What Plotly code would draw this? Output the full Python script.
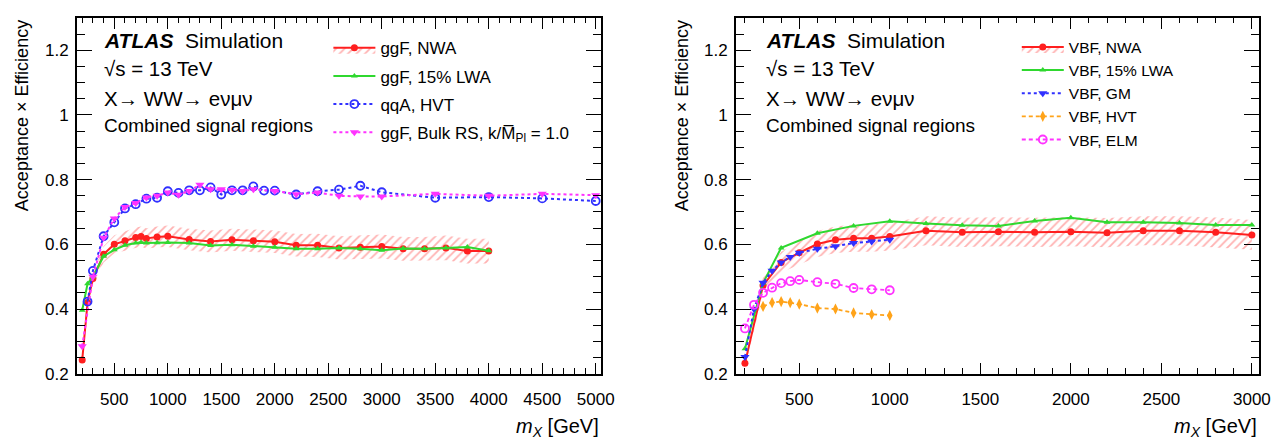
import plotly.graph_objects as go

W, H = 1284, 445

# ---------------- Left panel: ggF / qqA ----------------
ggf_nwa_mass = [200, 250, 300, 400, 500, 600, 700, 750, 800, 900, 1000, 1200, 1400, 1600, 1800,
                2000, 2200, 2400, 2600, 2800, 3000, 3200, 3400, 3600, 3800, 4000]
ggf_nwa_eff = [0.242, 0.420, 0.494, 0.569, 0.600, 0.611, 0.621, 0.624, 0.618, 0.623, 0.625, 0.615, 0.609,
               0.614, 0.611, 0.608, 0.597, 0.597, 0.589, 0.591, 0.593, 0.586, 0.586, 0.589, 0.579, 0.579]
ggf_nwa_unc = [0.010, 0.015, 0.020, 0.025, 0.028, 0.030, 0.031, 0.031, 0.032, 0.032, 0.033, 0.033, 0.034,
               0.034, 0.035, 0.035, 0.035, 0.036, 0.036, 0.036, 0.037, 0.037, 0.037, 0.038, 0.038, 0.038]

ggf_lwa_mass = ggf_nwa_mass
ggf_lwa_eff = [0.396, 0.478, 0.500, 0.563, 0.583, 0.597, 0.604, 0.606, 0.604, 0.605, 0.606, 0.604, 0.596,
               0.599, 0.594, 0.591, 0.586, 0.586, 0.589, 0.586, 0.582, 0.587, 0.586, 0.589, 0.592, 0.580]

qqa_hvt_mass = [250, 300, 400, 500, 600, 700, 800, 900, 1000, 1100, 1200, 1300, 1400, 1500, 1600, 1700,
                1800, 1900, 2000, 2200, 2400, 2600, 2800, 3000, 3500, 4000, 4500, 5000]
qqa_hvt_eff = [0.423, 0.518, 0.625, 0.668, 0.711, 0.724, 0.741, 0.744, 0.764, 0.759, 0.767, 0.767, 0.776,
               0.754, 0.767, 0.767, 0.779, 0.766, 0.766, 0.754, 0.764, 0.769, 0.781, 0.761, 0.744, 0.746,
               0.742, 0.734]

bulk_rs_mass = [200, 300, 400, 500, 600, 700, 800, 900, 1000, 1100, 1200, 1300, 1400, 1500, 1600, 1700,
                1800, 2000, 2200, 2400, 2600, 2800, 3000, 3500, 4000, 4500, 5000]
bulk_rs_eff = [0.285, 0.500, 0.620, 0.680, 0.715, 0.728, 0.745, 0.750, 0.760, 0.753, 0.765, 0.784, 0.770,
               0.770, 0.768, 0.765, 0.770, 0.765, 0.755, 0.760, 0.750, 0.748, 0.748, 0.756, 0.750, 0.756,
               0.752]

# ---------------- Right panel: VBF ----------------
vbf_nwa_mass = [200, 300, 400, 500, 600, 700, 800, 900, 1000, 1200, 1400, 1600, 1800, 2000, 2200, 2400,
                2600, 2800, 3000]
vbf_nwa_eff = [0.232, 0.473, 0.544, 0.574, 0.601, 0.614, 0.619, 0.619, 0.624, 0.642, 0.637, 0.639, 0.637,
               0.639, 0.636, 0.642, 0.642, 0.637, 0.629]
vbf_nwa_unc = [0.012, 0.025, 0.032, 0.036, 0.040, 0.041, 0.042, 0.042, 0.043, 0.045, 0.045, 0.045, 0.045,
               0.045, 0.045, 0.045, 0.045, 0.046, 0.046]

vbf_lwa_mass = [200, 300, 400, 600, 800, 1000, 1200, 1400, 1600, 1800, 2000, 2200, 2400, 2600, 2800, 3000]
vbf_lwa_eff = [0.277, 0.480, 0.589, 0.634, 0.657, 0.671, 0.664, 0.659, 0.657, 0.672, 0.682, 0.668, 0.668,
               0.666, 0.660, 0.660]

vbf_gm_mass = [200, 250, 300, 350, 400, 450, 500, 600, 700, 800, 900, 1000]
vbf_gm_eff = [0.252, 0.400, 0.481, 0.518, 0.544, 0.561, 0.574, 0.586, 0.594, 0.604, 0.609, 0.614]

vbf_hvt_mass = [300, 350, 400, 450, 500, 600, 700, 800, 900, 1000]
vbf_hvt_eff = [0.408, 0.420, 0.423, 0.420, 0.415, 0.403, 0.400, 0.388, 0.383, 0.380]

vbf_elm_mass = [200, 250, 300, 350, 400, 450, 500, 600, 700, 800, 900, 1000]
vbf_elm_eff = [0.340, 0.413, 0.450, 0.466, 0.480, 0.486, 0.490, 0.483, 0.478, 0.465, 0.461, 0.458]

# labels
left_legend = ["ggF, NWA", "ggF, 15% LWA", "qqA, HVT", "ggF, Bulk RS, k/M\u0305<sub>Pl</sub> = 1.0"]
right_legend = ["VBF, NWA", "VBF, 15% LWA", "VBF, GM", "VBF, HVT", "VBF, ELM"]

RED = "#ff1f1f"
GREEN = "#2fd82f"
BLUE = "#3030ff"
MAGENTA = "#ff33ff"
ORANGE = "#ffa319"
HATCH = dict(shape="/", fgcolor="rgba(255,70,70,0.85)", bgcolor="rgba(255,255,255,0)",
             size=6, solidity=0.3)

fig = go.Figure()


def add_nwa(mass, eff, unc, name, xa, ya, leg):
    up = [e + u for e, u in zip(eff, unc)]
    lo = [e - u for e, u in zip(eff, unc)]
    fig.add_trace(go.Scatter(x=mass, y=up, mode="lines", line=dict(width=0, color=RED),
                             showlegend=False, hoverinfo="skip", xaxis=xa, yaxis=ya,
                             legendgroup=name, legend=leg))
    fig.add_trace(go.Scatter(x=mass, y=eff, mode="lines+markers", name=name,
                             line=dict(color=RED, width=2), marker=dict(color=RED, size=7),
                             fill="tonexty", fillcolor="rgba(0,0,0,0)", fillpattern=HATCH,
                             xaxis=xa, yaxis=ya, legendgroup=name, legend=leg, legendrank=1))
    fig.add_trace(go.Scatter(x=mass, y=lo, mode="lines", line=dict(width=0, color=RED),
                             fill="tonexty", fillcolor="rgba(0,0,0,0)", fillpattern=HATCH,
                             showlegend=False, hoverinfo="skip", xaxis=xa, yaxis=ya,
                             legendgroup=name, legend=leg))


# Left
add_nwa(ggf_nwa_mass, ggf_nwa_eff, ggf_nwa_unc, left_legend[0], "x", "y", "legend")
fig.add_trace(go.Scatter(x=ggf_lwa_mass, y=ggf_lwa_eff, mode="lines+markers", name=left_legend[1],
                         line=dict(color=GREEN, width=2), marker=dict(color=GREEN, size=6, symbol="triangle-up"),
                         xaxis="x", yaxis="y", legend="legend", legendgroup="l2", legendrank=2))
fig.add_trace(go.Scatter(x=qqa_hvt_mass, y=qqa_hvt_eff, mode="lines+markers", name=left_legend[2],
                         line=dict(color=BLUE, width=2, dash="dot"),
                         marker=dict(color=BLUE, size=8, symbol="circle-open", line=dict(width=1.8)),
                         xaxis="x", yaxis="y", legend="legend", legendgroup="l3", legendrank=3))
fig.add_trace(go.Scatter(x=bulk_rs_mass, y=bulk_rs_eff, mode="lines+markers", name=left_legend[3],
                         line=dict(color=MAGENTA, width=2, dash="dot"),
                         marker=dict(color=MAGENTA, size=8, symbol="triangle-down"),
                         xaxis="x", yaxis="y", legend="legend", legendgroup="l4", legendrank=4))

# Right
add_nwa(vbf_nwa_mass, vbf_nwa_eff, vbf_nwa_unc, right_legend[0], "x2", "y2", "legend2")
fig.add_trace(go.Scatter(x=vbf_lwa_mass, y=vbf_lwa_eff, mode="lines+markers", name=right_legend[1],
                         line=dict(color=GREEN, width=2), marker=dict(color=GREEN, size=6, symbol="triangle-up"),
                         xaxis="x2", yaxis="y2", legend="legend2", legendgroup="r2", legendrank=2))
fig.add_trace(go.Scatter(x=vbf_gm_mass, y=vbf_gm_eff, mode="lines+markers", name=right_legend[2],
                         line=dict(color=BLUE, width=2, dash="dot"),
                         marker=dict(color=BLUE, size=8, symbol="triangle-down"),
                         xaxis="x2", yaxis="y2", legend="legend2", legendgroup="r3", legendrank=3))
fig.add_trace(go.Scatter(x=vbf_hvt_mass, y=vbf_hvt_eff, mode="lines+markers", name=right_legend[3],
                         line=dict(color=ORANGE, width=1.8, dash="4px,3px"),
                         marker=dict(color=ORANGE, size=8, symbol="diamond-tall"),
                         xaxis="x2", yaxis="y2", legend="legend2", legendgroup="r4", legendrank=4))
fig.add_trace(go.Scatter(x=vbf_elm_mass, y=vbf_elm_eff, mode="lines+markers", name=right_legend[4],
                         line=dict(color=MAGENTA, width=1.8, dash="4px,3px"),
                         marker=dict(color=MAGENTA, size=8, symbol="circle-open", line=dict(width=1.8)),
                         xaxis="x2", yaxis="y2", legend="legend2", legendgroup="r5", legendrank=5))

FONT = "Liberation Sans, Arial, Helvetica, sans-serif"

axis_common = dict(showline=True, linecolor="black", linewidth=1.6, mirror="ticks", ticks="inside",
                   tickcolor="black", tickwidth=1.4, showgrid=False, zeroline=False,
                   tickfont=dict(size=17, family=FONT, color="black"))

xl = [77.7 / W, 607.7 / W]
xr = [744.0 / W, 1273.0 / W]
yd = [1 - 382.3 / H, 1 - 18.3 / H]

xcommon = dict(axis_common, dtick=500, tick0=0, ticklen=11, tickformat="d", ticklabelstandoff=9,
               minor=dict(dtick=100, tick0=0, ticklen=5.5, ticks="inside", tickcolor="black", tickwidth=1.2))
ycommon = dict(axis_common, dtick=0.2, tick0=0.2, ticklen=15, range=[0.2, 1.3], ticklabelstandoff=3,
               minor=dict(dtick=0.05, tick0=0.2, ticklen=8, ticks="inside", tickcolor="black", tickwidth=1.2))

fig.update_layout(
    width=W, height=H, margin=dict(l=0, r=0, t=0, b=0),
    paper_bgcolor="white", plot_bgcolor="white",
    font=dict(family=FONT, size=17, color="black"),
    xaxis=dict(xcommon, domain=xl, range=[150, 5050], anchor="y"),
    yaxis=dict(ycommon, domain=yd, anchor="x"),
    xaxis2=dict(xcommon, domain=xr, range=[150, 3040], anchor="y2"),
    yaxis2=dict(ycommon, domain=yd, anchor="x2"),
    legend=dict(x=332 / W, y=1 - 31 / H, xanchor="left", yanchor="top", bgcolor="rgba(0,0,0,0)",
                font=dict(size=17, family=FONT), itemwidth=42, traceorder="grouped", tracegroupgap=3),
    legend2=dict(x=1028 / W, y=1 - 31 / H, xanchor="left", yanchor="top", bgcolor="rgba(0,0,0,0)",
                 font=dict(size=15.5, family=FONT), itemwidth=42, traceorder="grouped", tracegroupgap=0),
    showlegend=True,
)

ann = []


def text(x, y, s, size, **kw):
    d = dict(x=x / W, y=1 - y / H, xref="paper", yref="paper", text=s, showarrow=False,
             xanchor="left", yanchor="middle", font=dict(size=size, family=FONT, color="black"))
    d.update(kw)
    ann.append(d)


for x0, frame_r in [(103, 607.7), (772, 1273.0)]:
    text(x0, 41.7, "<b><i>ATLAS</i></b>\u00a0 Simulation", 21)
    text(x0, 70, "\u221as = 13 TeV", 20.5)
    text(x0, 101, "X\u2192 WW\u2192 e\u03bd\u03bc\u03bd", 20.5)
    text(x0, 128.3, "Combined signal regions", 19)
    text(frame_r, 437, "<i>m</i><sub><i>X</i></sub> [GeV]", 20, xanchor="right")

for xc in [23, 689.5]:
    text(xc, 18.3, "Acceptance \u00d7 Efficiency", 18, xanchor="center", yanchor="top", textangle=-90)

fig.update_layout(annotations=ann)

fig.write_html("out.html")
